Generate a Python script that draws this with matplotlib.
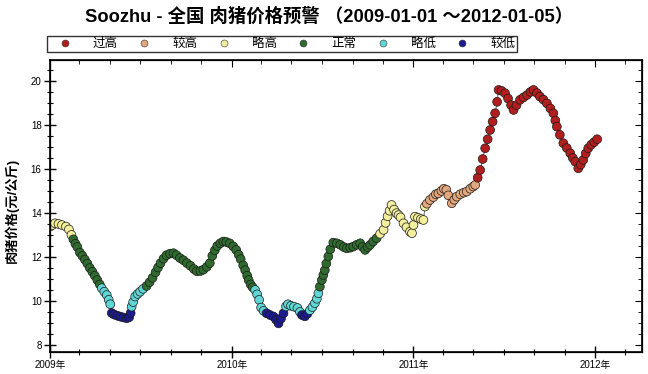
import pandas as pd
import matplotlib
matplotlib.use('Agg')
import matplotlib.pyplot as plt
import matplotlib.dates as mdates
from matplotlib.lines import Line2D
from matplotlib.ticker import MultipleLocator

plt.rcParams['font.family'] = ['Liberation Sans', 'Noto Sans CJK SC']

# readings (date, price in 元/公斤)
dates = [
    '2009-01-01', '2009-01-06', '2009-01-11', '2009-01-18', '2009-01-25', '2009-02-02', '2009-02-08',
    '2009-02-13', '2009-02-17', '2009-02-21', '2009-02-25', '2009-03-02', '2009-03-07', '2009-03-12',
    '2009-03-17', '2009-03-22', '2009-03-27', '2009-04-01', '2009-04-06', '2009-04-11', '2009-04-15',
    '2009-04-20', '2009-04-25', '2009-04-29', '2009-05-02', '2009-05-05', '2009-05-10', '2009-05-16',
    '2009-05-22', '2009-05-28', '2009-06-04', '2009-06-09', '2009-06-12', '2009-06-14', '2009-06-17',
    '2009-06-21', '2009-06-26', '2009-07-01', '2009-07-07', '2009-07-14', '2009-07-20', '2009-07-26',
    '2009-08-01', '2009-08-06', '2009-08-11', '2009-08-17', '2009-08-23', '2009-08-30', '2009-09-06',
    '2009-09-12', '2009-09-19', '2009-09-26', '2009-10-03', '2009-10-10', '2009-10-17', '2009-10-23',
    '2009-10-30', '2009-11-05', '2009-11-12', '2009-11-18', '2009-11-23', '2009-11-28', '2009-12-03',
    '2009-12-09', '2009-12-15', '2009-12-21', '2009-12-28',
    '2010-01-04', '2010-01-10', '2010-01-15', '2010-01-19', '2010-01-24', '2010-01-28', '2010-02-01',
    '2010-02-04', '2010-02-08', '2010-02-12', '2010-02-17', '2010-02-21', '2010-02-25', '2010-03-01',
    '2010-03-06', '2010-03-12', '2010-03-19', '2010-03-26', '2010-03-31', '2010-04-05', '2010-04-10',
    '2010-04-15', '2010-04-20', '2010-04-24', '2010-04-30', '2010-05-06', '2010-05-13', '2010-05-18',
    '2010-05-22', '2010-05-28', '2010-06-02', '2010-06-07', '2010-06-12', '2010-06-17', '2010-06-21',
    '2010-06-24', '2010-06-27', '2010-07-01', '2010-07-04', '2010-07-07', '2010-07-10', '2010-07-14',
    '2010-07-18', '2010-07-24', '2010-07-31', '2010-08-07', '2010-08-14', '2010-08-20', '2010-08-27',
    '2010-09-02', '2010-09-09', '2010-09-16', '2010-09-21', '2010-09-26', '2010-10-01', '2010-10-06',
    '2010-10-12', '2010-10-19', '2010-10-26', '2010-11-02', '2010-11-06', '2010-11-10', '2010-11-14',
    '2010-11-18', '2010-11-23', '2010-11-28', '2010-12-02', '2010-12-06', '2010-12-12', '2010-12-18',
    '2010-12-25', '2010-12-29',
    '2011-01-01', '2011-01-04', '2011-01-10', '2011-01-16', '2011-01-21', '2011-01-24', '2011-01-28',
    '2011-02-03', '2011-02-10', '2011-02-15', '2011-02-20', '2011-02-26', '2011-03-03', '2011-03-08',
    '2011-03-12', '2011-03-19', '2011-03-24', '2011-03-29', '2011-04-05', '2011-04-12', '2011-04-18',
    '2011-04-25', '2011-05-01', '2011-05-05', '2011-05-10', '2011-05-15', '2011-05-20', '2011-05-25',
    '2011-05-30', '2011-06-04', '2011-06-09', '2011-06-14', '2011-06-18', '2011-06-21', '2011-06-27',
    '2011-07-04', '2011-07-10', '2011-07-16', '2011-07-21', '2011-07-27', '2011-08-03', '2011-08-10',
    '2011-08-17', '2011-08-24', '2011-08-30', '2011-09-06', '2011-09-12', '2011-09-19', '2011-09-26',
    '2011-10-03', '2011-10-09', '2011-10-13', '2011-10-16', '2011-10-22', '2011-10-29', '2011-11-05',
    '2011-11-12', '2011-11-17', '2011-11-22', '2011-11-28', '2011-12-03', '2011-12-08', '2011-12-13',
    '2011-12-18', '2011-12-24', '2011-12-30', '2012-01-05',
]
prices = [
    13.38, 13.45, 13.53, 13.50, 13.45, 13.38, 13.25,
    13.00, 12.80, 12.60, 12.45, 12.20, 12.05, 11.88,
    11.70, 11.50, 11.33, 11.15, 10.95, 10.75, 10.58,
    10.42, 10.27, 10.05, 9.85, 9.45, 9.38, 9.33,
    9.29, 9.25, 9.21, 9.26, 9.45, 9.74, 9.95,
    10.20, 10.32, 10.42, 10.55, 10.68, 10.85, 11.05,
    11.30, 11.52, 11.72, 11.92, 12.08, 12.15, 12.17,
    12.08, 11.95, 11.85, 11.72, 11.60, 11.45, 11.35,
    11.36, 11.42, 11.55, 11.72, 12.05, 12.30, 12.50,
    12.62, 12.70, 12.68, 12.62,
    12.48, 12.32, 12.10, 11.90, 11.62, 11.40, 11.15,
    10.95, 10.75, 10.62, 10.50, 10.30, 10.05, 9.70,
    9.55, 9.44, 9.36, 9.29, 9.15, 8.98, 9.20,
    9.44, 9.75, 9.85, 9.78, 9.74, 9.68, 9.50,
    9.36, 9.30, 9.42, 9.58, 9.72, 9.90, 10.10,
    10.35, 10.65, 10.95, 11.18, 11.40, 11.70, 12.02,
    12.35, 12.65, 12.62, 12.55, 12.45, 12.39, 12.42,
    12.47, 12.55, 12.62, 12.45, 12.32, 12.45, 12.55,
    12.70, 12.85, 13.05, 13.23, 13.55, 13.85, 14.10,
    14.36, 14.15, 13.99, 13.90, 13.80, 13.53, 13.35,
    13.15, 13.08,
    13.45, 13.83, 13.78, 13.72, 13.68, 14.29, 14.42,
    14.59, 14.72, 14.85, 14.89, 15.00, 15.10, 15.05,
    14.80, 14.44, 14.60, 14.74, 14.85, 14.92, 14.97,
    15.10, 15.20, 15.27, 15.60, 15.95, 16.45, 16.94,
    17.35, 17.77, 18.15, 18.53, 19.05, 19.59, 19.55,
    19.44, 19.20, 18.90, 18.68, 18.90, 19.14, 19.25,
    19.36, 19.50, 19.59, 19.45, 19.29, 19.15, 18.98,
    18.75, 18.53, 18.20, 17.92, 17.55, 17.17, 16.95,
    16.71, 16.50, 16.33, 16.03, 16.20, 16.41, 16.70,
    16.94, 17.10, 17.22, 17.35,
]

# warning levels: upper bound of each band, label and colour
level_names = ['较低', '略低', '正常', '略高', '较高', '过高']
level_tops = [9.5, 10.6, 13.0, 14.4, 15.3, 99]
level_colors = ['#1c1c8e', '#62d6d6', '#2f6a2f', '#f3ee9c', '#e2a77c', '#b01e1e']

df = pd.DataFrame({'date': pd.to_datetime(dates), 'price': prices})
df['level'] = 0
for i, top in enumerate(level_tops[:-1]):
    df.loc[df['price'] >= top, 'level'] = i + 1
df['color'] = [level_colors[k] for k in df['level']]

fig = plt.figure(figsize=(6.48, 3.74), dpi=100)
ax = fig.add_axes([50 / 648, 22 / 374, 592 / 648, 292 / 374])

ax.plot(df['date'], df['price'], color='#222222', lw=0.5, zorder=1)
ax.scatter(df['date'], df['price'], c=df['color'], s=40, edgecolors='#1a1a1a',
           linewidths=0.5, zorder=2)

xmin = pd.Timestamp('2009-01-01')
xmax = pd.Timestamp('2012-04-04')
ax.set_xlim(xmin, xmax)
ax.set_ylim(7.68, 20.95)

ax.xaxis.set_major_locator(mdates.YearLocator())
ax.xaxis.set_minor_locator(mdates.MonthLocator(bymonth=[3, 5, 7, 9, 11]))
ax.xaxis.set_major_formatter(mdates.DateFormatter('%Y年'))
ax.yaxis.set_major_locator(MultipleLocator(2))
ax.yaxis.set_minor_locator(MultipleLocator(0.5))

ax.tick_params(which='major', direction='inout', length=8, width=1, labelsize=7, pad=2)
ax.tick_params(which='minor', direction='inout', length=5, width=0.8)
for s in ax.spines.values():
    s.set_linewidth(1.2)

# inward ticks on top and right
ax_top = ax.twiny()
ax_top.set_xlim(ax.get_xlim())
ax_top.xaxis.set_major_locator(mdates.YearLocator())
ax_top.xaxis.set_minor_locator(mdates.MonthLocator(bymonth=[3, 5, 7, 9, 11]))
ax_top.tick_params(which='both', direction='in', labeltop=False)
ax_top.tick_params(which='major', length=5)
ax_top.tick_params(which='minor', length=3)
ax_r = ax.twinx()
ax_r.set_ylim(ax.get_ylim())
ax_r.yaxis.set_major_locator(MultipleLocator(2))
ax_r.yaxis.set_minor_locator(MultipleLocator(0.5))
ax_r.tick_params(which='both', direction='in', labelright=False)
ax_r.tick_params(which='major', length=5)
ax_r.tick_params(which='minor', length=3)

fig.text(12 / 648, 1 - 210 / 374, '肉猪价格(元/公斤)', rotation=90, ha='center', va='center',
         fontsize=9.5, fontweight='bold')
fig.text(329 / 648, 1 - 17 / 374, 'Soozhu - 全国 肉猪价格预警 （2009-01-01 ～2012-01-05）',
         ha='center', va='center', fontsize=13.2, fontweight='bold')

order = [5, 4, 3, 2, 1, 0]
handles = [Line2D([], [], ls='none', marker='o', markersize=5, markerfacecolor=level_colors[k],
                  markeredgecolor='#333333', markeredgewidth=0.4) for k in order]
labels = [level_names[k] for k in order]
leg = fig.legend(handles, labels, loc='lower left', ncol=6, mode='expand',
                 bbox_to_anchor=(47 / 648, 1 - 52 / 374, 470 / 648, 15 / 374),
                 frameon=True, fancybox=False, edgecolor='black', fontsize=9,
                 borderpad=0.15, handlelength=2.5, handletextpad=1.0,
                 borderaxespad=0, columnspacing=1.0)
leg.get_frame().set_linewidth(1.0)

fig.savefig('out.png', dpi=100)
